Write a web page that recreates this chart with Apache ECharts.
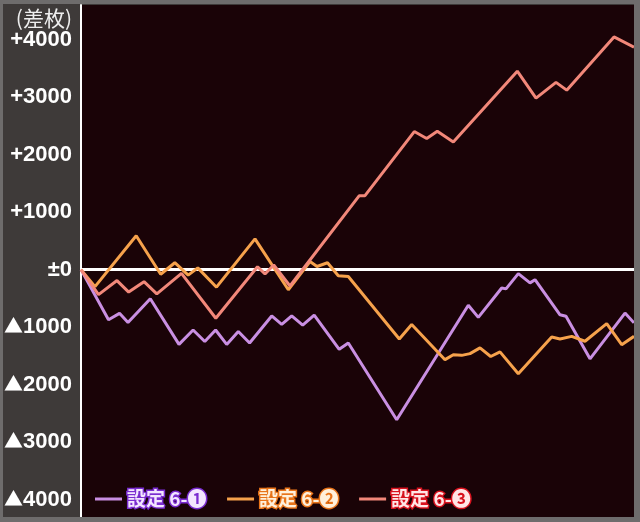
<!DOCTYPE html>
<html>
<head>
<meta charset="utf-8">
<script src="https://cdn.jsdelivr.net/npm/echarts@6/dist/echarts.min.js"></script>
<style>
  html, body { margin: 0; padding: 0; background: #6e6c6c; }
  #chart { position: absolute; left: 3px; top: 4px; width: 631px; height: 513px; }
</style>
</head>
<body>
<div id="chart"></div>
<script>
// x = games, y = 差枚
const games6_1 = [0, 275, 385, 470, 693, 980, 1121, 1238, 1346, 1457, 1573, 1686, 1907, 2007, 2107, 2217, 2332, 2582, 2673, 3157, 3873, 3973, 4207, 4250, 4373, 4490, 4540, 4790, 4850, 5090, 5440, 5530]
const diff6_1 = [0, -870, -760, -920, -505, -1300, -1050, -1250, -1050, -1300, -1075, -1275, -805, -950, -805, -965, -790, -1385, -1275, -2610, -620, -830, -320, -335, -70, -230, -175, -785, -810, -1550, -755, -925]

const games6_2 = [0, 140, 552, 797, 938, 1072, 1168, 1355, 1740, 2073, 2290, 2360, 2465, 2573, 2673, 3183, 3307, 3640, 3723, 3807, 3890, 3990, 4097, 4190, 4373, 4707, 4790, 4907, 5040, 5257, 5407, 5530]
const diff6_2 = [0, -295, 590, -80, 120, -95, 30, -305, 535, -350, 140, 55, 120, -105, -120, -1205, -955, -1565, -1480, -1490, -1460, -1360, -1510, -1430, -1810, -1170, -1205, -1160, -1245, -940, -1305, -1160]

const games6_3 = [0, 175, 360, 477, 630, 758, 1005, 1348, 1765, 1840, 1927, 2090, 2783, 2840, 3333, 3457, 3563, 3723, 4363, 4550, 4750, 4857, 5330, 5530]
const diff6_3 = [0, -435, -190, -390, -210, -420, -65, -845, 50, -75, 80, -285, 1285, 1285, 2400, 2280, 2405, 2220, 3450, 2980, 3255, 3120, 4045, 3865]

const yTicks = [-4000, -3000, -2000, -1000, 0, 1000, 2000, 3000, 4000]
const seriesNames = ['設定 6-❶', '設定 6-❷', '設定 6-❸']

const zip = (xs, ys) => xs.map((x, i) => [x, ys[i]])

const chart = echarts.init(document.getElementById('chart'))

const legendStyle = [
  { color: '#f3e6ff', textBorderColor: '#7a2cd0' },
  { color: '#fff0dc', textBorderColor: '#e8741a' },
  { color: '#ffe6e6', textBorderColor: '#d8121e' }
]

const option = {
  backgroundColor: '#3e3a39',
  animation: false,
  grid: {
    left: 78,
    top: 1,
    right: 0,
    bottom: 0,
    outerBoundsMode: 'none',
    containLabel: false,
    show: true,
    backgroundColor: '#1a0307',
    borderWidth: 0
  },
  graphic: [
    {
      type: 'text',
      x: 69,
      y: 14,
      style: {
        text: '(差枚)',
        fill: '#eeeeee',
        font: '21px "Noto Sans CJK JP"',
        align: 'right',
        verticalAlign: 'middle'
      }
    }
  ],
  legend: {
    left: 87,
    top: 479,
    itemWidth: 27,
    itemHeight: 3,
    itemGap: 19,
    icon: 'rect',
    data: seriesNames.map((name, i) => ({
      name: name,
      textStyle: {
        color: legendStyle[i].color,
        textBorderColor: legendStyle[i].textBorderColor,
        textBorderWidth: 3,
        fontSize: 19,
        fontWeight: 'bold',
        fontFamily: '"Noto Sans CJK JP", "DejaVu Sans"'
      }
    }))
  },
  xAxis: {
    type: 'value',
    min: 0,
    max: 5530,
    show: false
  },
  yAxis: {
    type: 'value',
    min: -4300,
    max: 4600,
    axisLine: { show: true, lineStyle: { color: '#ffffff', width: 2 } },
    axisTick: { show: false },
    splitLine: { show: false },
    axisLabel: {
      customValues: yTicks,
      margin: 9,
      color: '#ffffff',
      fontSize: 22,
      fontWeight: 'bold',
      fontFamily: '"Liberation Sans", Arial',
      formatter: function (v) {
        if (v > 0) return '+' + v
        if (v < 0) return '{tri|▲}' + (-v)
        return '±0'
      },
      rich: {
        tri: {
          color: '#ffffff',
          fontSize: 19,
          fontFamily: '"Noto Sans CJK JP"',
          padding: [0, 0, 2, 0]
        }
      }
    }
  },
  series: [
    {
      name: seriesNames[0],
      type: 'line',
      data: zip(games6_1, diff6_1),
      symbol: 'none',
      color: '#c98fe2',
      lineStyle: { width: 3, color: '#c98fe2' },
      z: 3,
      markLine: {
        z: 1,
        silent: true,
        symbol: 'none',
        label: { show: false },
        lineStyle: { color: '#ffffff', width: 3, type: 'solid' },
        data: [{ yAxis: 0 }]
      }
    },
    {
      name: seriesNames[1],
      type: 'line',
      data: zip(games6_2, diff6_2),
      symbol: 'none',
      color: '#f6a24c',
      lineStyle: { width: 3, color: '#f6a24c' },
      z: 3
    },
    {
      name: seriesNames[2],
      type: 'line',
      data: zip(games6_3, diff6_3),
      symbol: 'none',
      color: '#f2887a',
      lineStyle: { width: 3, color: '#f2887a' },
      z: 3
    }
  ]
}

chart.setOption(option)

window.addEventListener('resize', () => {
  chart.resize()
})
</script>
</body>
</html>
